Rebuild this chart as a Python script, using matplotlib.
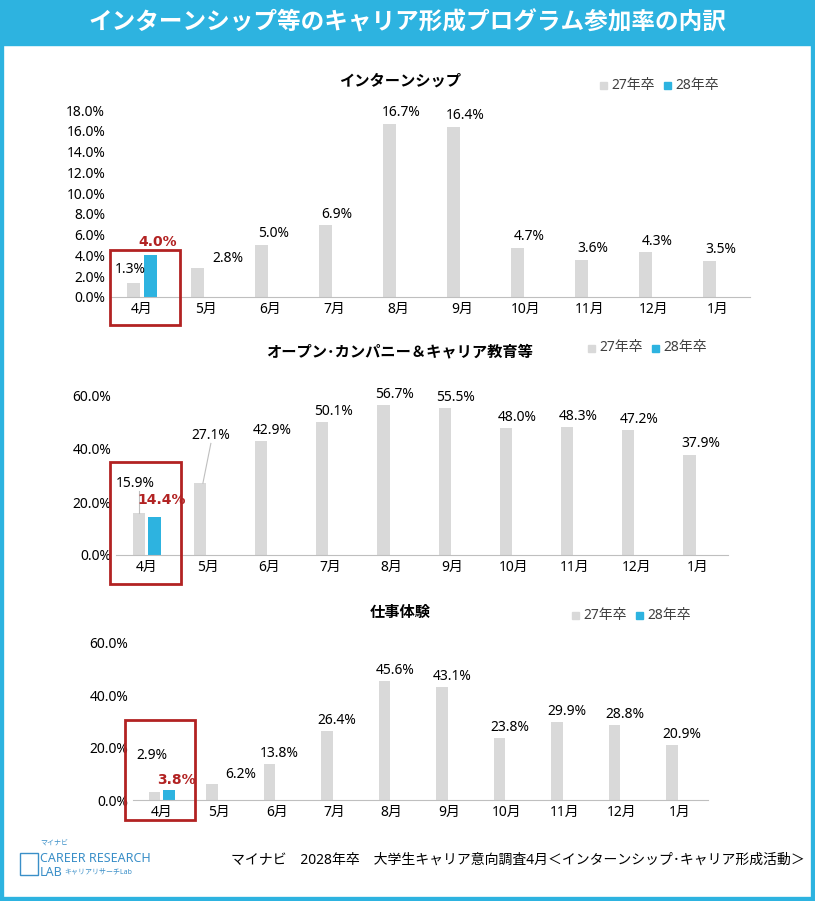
import matplotlib
matplotlib.use("Agg")
import matplotlib.pyplot as plt
from matplotlib.patches import Rectangle

plt.rcParams['font.family'] = ['Noto Sans', 'Noto Sans CJK JP', 'DejaVu Sans']

months = ["4月", "5月", "6月", "7月", "8月", "9月", "10月", "11月", "12月", "1月"]
intern27 = [1.3, 2.8, 5.0, 6.9, 16.7, 16.4, 4.7, 3.6, 4.3, 3.5]
intern28 = [4.0]
open27 = [15.9, 27.1, 42.9, 50.1, 56.7, 55.5, 48.0, 48.3, 47.2, 37.9]
open28 = [14.4]
work27 = [2.9, 6.2, 13.8, 26.4, 45.6, 43.1, 23.8, 29.9, 28.8, 20.9]
work28 = [3.8]
titles = ["インターンシップ", "オープン･カンパニー＆キャリア教育等", "仕事体験"]

W, H = 815, 901
fig = plt.figure(figsize=(W/100, H/100), dpi=100)
CYAN = "#2db3e0"; GREY = "#d9d9d9"; RED = "#b22222"

def px(l, t, r, b):
    return [l/W, 1-b/H, (r-l)/W, (b-t)/H]

fig.patches.append(Rectangle((0, 0), 1, 1, transform=fig.transFigure, fill=False, ec=CYAN, lw=6))
fig.patches.append(Rectangle((0, 1-45/H), 1, 45/H, transform=fig.transFigure, color=CYAN))
fig.text(0.5, 1-24/H, "インターンシップ等のキャリア形成プログラム参加率の内訳", ha="center", va="center",
         color="white", fontsize=17, fontweight="bold")

panels = [
    dict(d27=intern27, d28=intern28, ymax=18, step=2, box=(110, 110, 750, 297), title_y=82, leg=(600, 85),
         red=(110, 250, 180, 325), first=(1.9, 4.6)),
    dict(d27=open27, d28=open28, ymax=60, step=20, box=(116, 396, 728, 555), title_y=353, leg=(588, 348),
         red=(110, 462, 181, 584), first=(24, 18)),
    dict(d27=work27, d28=work28, ymax=60, step=20, box=(133, 643, 708, 800), title_y=613, leg=(572, 615),
         red=(125, 720, 195, 820), first=(14, 5)),
]

for i, p in enumerate(panels):
    ax = fig.add_axes(px(*p["box"]))
    x = list(range(len(months)))
    off = 0.13
    ax.bar([v - off for v in x], p["d27"], width=0.2, color=GREY)
    ax.bar([0 + off], p["d28"], width=0.2, color=CYAN)
    ax.set_xlim(-0.5, len(months) - 0.5)
    ax.set_ylim(0, p["ymax"])
    ticks = list(range(0, p["ymax"] + 1, p["step"]))
    ax.set_yticks(ticks)
    ax.set_yticklabels([f"{t:.1f}%" for t in ticks], fontsize=10)
    ax.set_xticks(x)
    ax.set_xticklabels(months, fontsize=10)
    for s in ["top", "right", "left"]:
        ax.spines[s].set_visible(False)
    ax.spines["bottom"].set_color("#bfbfbf")
    ax.tick_params(length=0)
    ax.set_facecolor("none")
    pad = p["ymax"] * 0.02
    f27, f28 = p["first"]
    for j, v in enumerate(p["d27"]):
        xx = j - off
        if j == 0:
            ax.text(xx - 0.05, f27, f"{v:.1f}%", ha="center", va="bottom", fontsize=10)
        elif j == 1:
            ax.text(j + (0.05 if i == 1 else 0.1), v + (p["ymax"]*0.25 if i == 1 else pad*0.5), f"{v:.1f}%",
                    ha="left" if i != 1 else "center", va="bottom", fontsize=10)
        else:
            ax.text(j + 0.05, v + pad, f"{v:.1f}%", ha="center", va="bottom", fontsize=10)
    if i == 1:
        ax.plot([1 - off + 0.05, 1 + 0.05], [open27[1], open27[1] + 15], color="#bfbfbf", lw=0.8)
        ax.plot([-off, -off], [open27[0], f27], color="#bfbfbf", lw=0.8)
    v = p["d28"][0]
    ax.text(off + 0.12, f28, f"{v:.1f}%", ha="center", va="bottom", fontsize=10,
            color=RED, fontweight="bold", family=['DejaVu Sans'])
    fig.text(400/W, 1-p["title_y"]/H, titles[i], ha="center", va="center", fontsize=11, fontweight="bold")
    lx, ly = p["leg"]
    fig.patches.append(Rectangle((lx/W, 1-(ly+4)/H), 7/W, 7/H, transform=fig.transFigure, color=GREY))
    fig.text((lx+11)/W, 1-ly/H, "27年卒", va="center", fontsize=10, color="#404040")
    fig.patches.append(Rectangle(((lx+64)/W, 1-(ly+4)/H), 7/W, 7/H, transform=fig.transFigure, color=CYAN))
    fig.text((lx+75)/W, 1-ly/H, "28年卒", va="center", fontsize=10, color="#404040")
    l, t, r, b = p["red"]
    fig.patches.append(Rectangle((l/W, 1-b/H), (r-l)/W, (b-t)/H, transform=fig.transFigure,
                                 fill=False, ec=RED, lw=2))

fig.text(40/W, 1-845/H, "マイナビ", fontsize=5, color="#3a8fc8")
fig.text(40/W, 1-858/H, "CAREER RESEARCH", fontsize=9, color="#3a8fc8", va="center")
fig.text(40/W, 1-872/H, "LAB", fontsize=9, color="#3a8fc8", va="center")
fig.text(64/W, 1-872/H, "キャリアリサーチLab", fontsize=5, color="#3a8fc8", va="center")
fig.patches.append(Rectangle((20/W, 1-875/H), 18/W, 22/H, transform=fig.transFigure, fill=False, ec="#3a8fc8", lw=1))
fig.text(805/W, 1-860/H, "マイナビ　2028年卒　大学生キャリア意向調査4月＜インターンシップ･キャリア形成活動＞",
         ha="right", va="center", fontsize=10)

fig.savefig("out.png", dpi=100)
